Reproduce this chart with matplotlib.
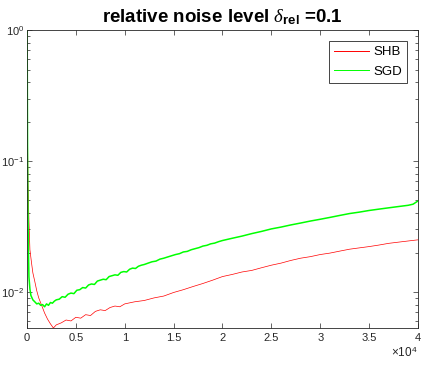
import matplotlib
matplotlib.use('Agg')
import matplotlib.pyplot as plt
from matplotlib.ticker import LogLocator, NullFormatter

# iterations in units of 1e4
shb_x = [0, 0.003, 0.006, 0.01, 0.02, 0.03, 0.045, 0.06, 0.08, 0.1, 0.12, 0.15, 0.18, 0.21, 0.24, 0.27,
         0.3, 0.35, 0.4, 0.45, 0.5, 0.55, 0.6, 0.65, 0.7, 0.75, 0.8, 0.85, 0.9, 0.95, 1.0,
         1.1, 1.2, 1.3, 1.4, 1.5, 1.6, 1.7, 1.8, 1.9, 2.0, 2.1, 2.2, 2.3, 2.4, 2.5, 2.6, 2.7,
         2.8, 2.9, 3.0, 3.1, 3.2, 3.3, 3.4, 3.5, 3.6, 3.7, 3.8, 3.9, 4.0]
shb_y = [1.0, 0.4, 0.15, 0.07, 0.035, 0.021, 0.017, 0.014, 0.012, 0.0102, 0.0090, 0.0079, 0.0069, 0.0062, 0.0057, 0.0053,
         0.0056, 0.0058, 0.0061, 0.0060, 0.0064, 0.0063, 0.0067, 0.0066, 0.0071, 0.0073, 0.0072, 0.0076, 0.0078, 0.0077, 0.0081,
         0.0084, 0.0086, 0.0090, 0.0093, 0.0099, 0.0104, 0.0110, 0.0116, 0.0123, 0.0131, 0.0136, 0.0142, 0.0146, 0.0153, 0.0160, 0.0166, 0.0174,
         0.0181, 0.0186, 0.0193, 0.0198, 0.0205, 0.0212, 0.0217, 0.0222, 0.0228, 0.0235, 0.0240, 0.0245, 0.0250]

sgd_x = [0, 0.003, 0.006, 0.01, 0.015, 0.02, 0.03,
         0.04, 0.06, 0.08, 0.10, 0.12, 0.14, 0.16, 0.18, 0.20, 0.22, 0.24, 0.26, 0.28, 0.30,
         0.33, 0.36, 0.39, 0.42, 0.45, 0.48, 0.51, 0.54, 0.57, 0.60, 0.63, 0.66, 0.69, 0.72,
         0.75, 0.78, 0.81, 0.84, 0.87, 0.90, 0.93, 0.96, 0.99, 1.02, 1.05, 1.08, 1.11, 1.14,
         1.17, 1.20, 1.24, 1.28, 1.32, 1.36, 1.40, 1.44, 1.48, 1.52, 1.56, 1.60, 1.64, 1.68,
         1.72, 1.76, 1.80, 1.84, 1.88, 1.92, 1.96, 2.00,
         2.1, 2.2, 2.3, 2.4, 2.5, 2.6, 2.7, 2.8, 2.9, 3.0, 3.1, 3.2, 3.3, 3.4, 3.5, 3.6, 3.7, 3.8,
         3.9, 3.95, 4.0]
sgd_y = [1.0, 0.5, 0.1, 0.04, 0.02, 0.013, 0.0105,
         0.0094, 0.0087, 0.0084, 0.0081, 0.0082, 0.0079, 0.0080, 0.0077, 0.0081, 0.0079, 0.0083, 0.0082, 0.0085, 0.0087,
         0.0088, 0.0092, 0.0091, 0.0096, 0.0098, 0.0097, 0.0103, 0.0104, 0.0108, 0.0107, 0.0113, 0.0115, 0.0114, 0.0121,
         0.0123, 0.0125, 0.0124, 0.0131, 0.0133, 0.0135, 0.0134, 0.0141, 0.0143, 0.0142, 0.0149, 0.0152, 0.0151, 0.0157,
         0.0160, 0.0162, 0.0166, 0.0170, 0.0172, 0.0178, 0.0181, 0.0185, 0.0189, 0.0193, 0.0196, 0.0202, 0.0204, 0.0210,
         0.0214, 0.0218, 0.0224, 0.0227, 0.0233, 0.0236, 0.0242, 0.0247,
         0.0257, 0.0267, 0.0279, 0.0290, 0.0303, 0.0313, 0.0325, 0.0336, 0.0348, 0.0359, 0.0371, 0.0384, 0.0397, 0.0407, 0.0419, 0.0429, 0.0439, 0.0449,
         0.0459, 0.0468, 0.0495]

xticks = [0, 0.5, 1, 1.5, 2, 2.5, 3, 3.5, 4]
xticklabels = ['0', '0.5', '1', '1.5', '2', '2.5', '3', '3.5', '4']

plt.rcParams['font.family'] = ['Liberation Sans', 'DejaVu Sans']
plt.rcParams['mathtext.fontset'] = 'custom'
plt.rcParams['mathtext.rm'] = 'Liberation Sans'
plt.rcParams['mathtext.bf'] = 'Liberation Sans:bold'
plt.rcParams['mathtext.it'] = 'Liberation Serif:italic'

axcol = '#262626'
fig = plt.figure(figsize=(4.23, 3.68), dpi=100)
ax = fig.add_axes([0.0638, 0.1087, 0.9242, 0.8093])

ax.plot(shb_x, shb_y, color='#ff0000', lw=0.5, label='SHB')
ax.plot(sgd_x, sgd_y, color='#00ff00', lw=1.1, label='SGD')

ax.set_yscale('log')
ax.set_xlim(0, 4)
ax.set_ylim(0.0053, 1.0)
ax.set_xticks(xticks)
ax.set_xticklabels(xticklabels)
ax.yaxis.set_major_locator(LogLocator(base=10, numticks=10))
ax.yaxis.set_minor_locator(LogLocator(base=10, subs=range(2, 10), numticks=10))
ax.yaxis.set_minor_formatter(NullFormatter())

ax.tick_params(which='both', direction='in', top=True, right=True, colors=axcol, labelsize=8)
ax.tick_params(axis='y', pad=2)
ax.tick_params(which='major', length=3.5, width=0.5)
ax.tick_params(which='minor', length=2, width=0.5)
for s in ax.spines.values():
    s.set_color(axcol)
    s.set_linewidth(0.6)

ax.set_title(r'relative noise level $\delta_{\mathbf{rel}}$ =0.1', fontsize=13.5, fontweight='bold', pad=6)
ax.text(1.0, -0.06, r'$\times10^{4}$', transform=ax.transAxes, ha='right', va='top', fontsize=8.5, color=axcol)

leg = ax.legend(loc='upper right', fontsize=9.5, fancybox=False, framealpha=1, edgecolor=axcol,
                handlelength=2.6, borderaxespad=0.8, borderpad=0.4, labelspacing=0.55, handletextpad=0.35)
leg.get_frame().set_linewidth(0.6)
for h in leg.get_lines():
    h.set_linewidth(0.7)

fig.savefig('out.png', dpi=100)
